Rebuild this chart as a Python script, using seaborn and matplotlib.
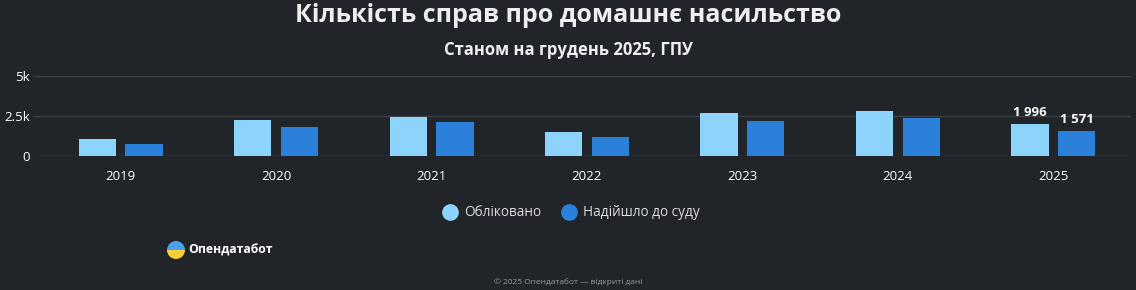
import matplotlib
matplotlib.use("Agg")
import matplotlib.pyplot as plt
import matplotlib.patches as mpatches
from matplotlib.lines import Line2D
import seaborn as sns
import pandas as pd

years = ["2019", "2020", "2021", "2022", "2023", "2024", "2025"]
registered = [1050, 2220, 2450, 1500, 2715, 2820, 1996]
to_court = [765, 1830, 2120, 1215, 2200, 2385, 1571]
series_names = ["Обліковано", "Надійшло до суду"]
yticks = [0, 2500, 5000]
ytick_labels = ["0", "2.5k", "5k"]

BG = "#212428"
LIGHT = "#8dd4fd"
DARK = "#2b80d9"
GRID = "#3c3f44"
TXT = "#ffffff"

df = pd.DataFrame({
    "year": years * 2,
    "value": registered + to_court,
    "series": [series_names[0]] * len(years) + [series_names[1]] * len(years),
})

sns.set_theme(style="dark")
plt.rcParams["font.family"] = ["Open Sans", "DejaVu Sans"]

fig = plt.figure(figsize=(11.36, 2.90), dpi=100, facecolor=BG)
ax = fig.add_axes([33 / 1136, 134 / 290, (1131 - 33) / 1136, 80 / 290])
ax.set_facecolor(BG)

sns.barplot(data=df, x="year", y="value", hue="series", palette=[LIGHT, DARK],
            ax=ax, width=0.6, gap=0.2, legend=False, saturation=1, linewidth=0)

ax.set_ylim(0, 5000)
ax.set_xlim(-0.5 - 10 / 155.5, 6.5)
ax.set_yticks(yticks)
ax.set_yticklabels(ytick_labels)
ax.grid(axis="y", color=GRID, linewidth=1)
ax.grid(axis="x", visible=False)
ax.set_axisbelow(True)
for s in ax.spines.values():
    s.set_visible(False)
ax.set_xlabel("")
ax.set_ylabel("")
ax.tick_params(axis="y", colors=TXT, labelsize=9.5, length=0, pad=2)
ax.tick_params(axis="x", colors=TXT, labelsize=9.5, length=4, pad=6, color=GRID, direction="out")
ax.xaxis.set_tick_params(width=1)

# data labels for the last year
last = len(years) - 1
for vals, off in [(registered, -0.15), (to_court, 0.15)]:
    v = vals[last]
    txt = f"{v:,}".replace(",", " ")
    ax.text(last + off, v + 300, txt, ha="center", va="bottom", color=TXT,
            fontsize=9.5, fontweight="bold")

fig.text(0.5, 1 - 16 / 290, "Кількість справ про домашнє насильство", ha="center", va="center",
         color="#eeeeee", fontsize=18, fontweight="bold")
fig.text(0.5, 1 - 50 / 290, "Станом на грудень 2025, ГПУ", ha="center", va="center",
         color="#eeeeee", fontsize=12, fontweight="bold")

handles = [Line2D([0], [0], marker="o", linestyle="", markersize=11, markerfacecolor=c,
                  markeredgecolor=c) for c in (LIGHT, DARK)]
leg = fig.legend(handles, series_names, loc="center", bbox_to_anchor=(568 / 1136, 1 - 213 / 290),
                 ncol=2, frameon=False, fontsize=9.8, handletextpad=0.05, columnspacing=1.0,
                 labelcolor="#dddddd")

# logo
fig.patches.append(mpatches.Wedge((176, 40), 9, 0, 180, transform=None, facecolor="#4aa3e8",
                                  linewidth=0))
fig.patches.append(mpatches.Wedge((176, 40), 9, 180, 360, transform=None, facecolor="#f5cf3a",
                                  linewidth=0))
fig.text(188 / 1136, 1 - 250 / 290, "Опендатабот", ha="left", va="center", color="#ffffff",
         fontsize=8.8, fontweight="bold")

fig.text(0.5, 1 - 282 / 290, "© 2025 Опендатабот — відкриті дані", ha="center", va="center",
         color="#9a9a9a", fontsize=6)

fig.savefig("out.png", dpi=100, facecolor=BG)
